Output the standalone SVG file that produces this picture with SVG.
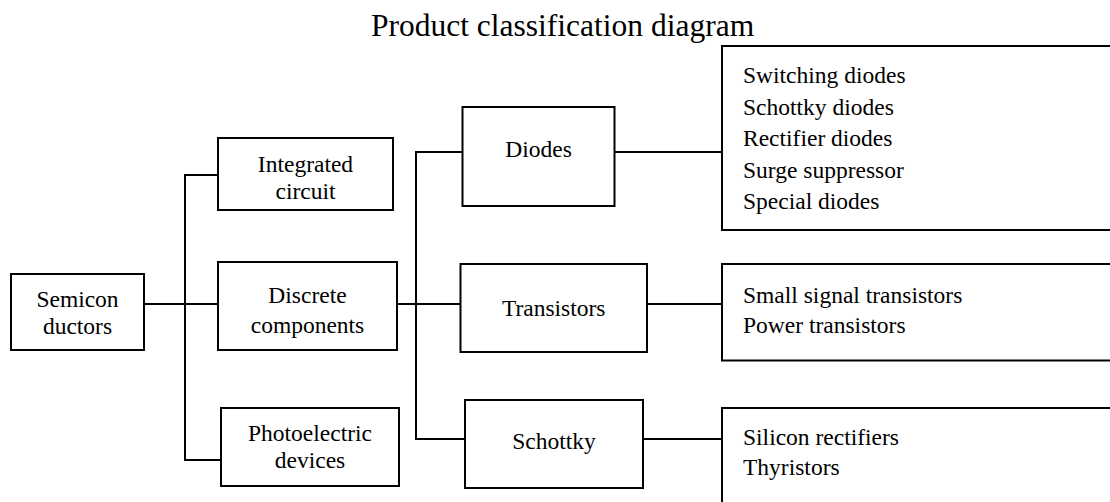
<svg xmlns="http://www.w3.org/2000/svg" width="1110" height="502" viewBox="0 0 1110 502" font-family="'Liberation Serif', 'Times New Roman', serif">
<style>
.box{fill:#fff;stroke:#000;stroke-width:2}
.con{fill:none;stroke:#000;stroke-width:2}
</style>
<rect width="1110" height="502" fill="#fff"/>
<text font-family="'Liberation Serif', 'Times New Roman', serif" font-size="31.5" x="371" y="36">Product classification diagram</text>
<g id="connectors">
<path class="con" d="M144,304 H218"/>
<path class="con" d="M218,175 H185 V460 H221"/>
<path class="con" d="M397,304 H460"/>
<path class="con" d="M462,152 H416 V439 H465"/>
<path class="con" d="M614,152 H722"/>
<path class="con" d="M647,304 H722"/>
<path class="con" d="M643,439 H722"/>
</g>
<g font-family="'Liberation Serif', 'Times New Roman', serif" font-size="23.5" text-anchor="middle">
<g id="semiconductors">
<rect class="box" x="11" y="274" width="133" height="76"/>
<text font-family="'Liberation Serif', 'Times New Roman', serif" x="77.5" y="306.5">Semicon</text>
<text font-family="'Liberation Serif', 'Times New Roman', serif" x="77.5" y="334">ductors</text>
</g>
<g id="integrated-circuit">
<rect class="box" x="218" y="138" width="175" height="72"/>
<text font-family="'Liberation Serif', 'Times New Roman', serif" x="305.5" y="171.5">Integrated</text>
<text font-family="'Liberation Serif', 'Times New Roman', serif" x="305.5" y="198.5">circuit</text>
</g>
<g id="discrete-components">
<rect class="box" x="218" y="262" width="179" height="88"/>
<text font-family="'Liberation Serif', 'Times New Roman', serif" x="307.5" y="302.5">Discrete</text>
<text font-family="'Liberation Serif', 'Times New Roman', serif" x="307.5" y="332.5">components</text>
</g>
<g id="photoelectric-devices">
<rect class="box" x="221" y="408" width="178" height="78"/>
<text font-family="'Liberation Serif', 'Times New Roman', serif" x="310" y="440.5">Photoelectric</text>
<text font-family="'Liberation Serif', 'Times New Roman', serif" x="310" y="468">devices</text>
</g>
<g id="diodes">
<rect class="box" x="462.5" y="107" width="152" height="99"/>
<text font-family="'Liberation Serif', 'Times New Roman', serif" x="538.5" y="157">Diodes</text>
</g>
<g id="transistors">
<rect class="box" x="460.5" y="264" width="186.5" height="88"/>
<text font-family="'Liberation Serif', 'Times New Roman', serif" x="553.7" y="316">Transistors</text>
</g>
<g id="schottky">
<rect class="box" x="465" y="400" width="178" height="88"/>
<text font-family="'Liberation Serif', 'Times New Roman', serif" x="554" y="449">Schottky</text>
</g>
</g>
<g font-family="'Liberation Serif', 'Times New Roman', serif" font-size="23.5">
<g id="diode-list">
<rect class="box" x="722" y="46" width="400" height="184"/>
<text font-family="'Liberation Serif', 'Times New Roman', serif" x="743" y="83">Switching diodes</text>
<text font-family="'Liberation Serif', 'Times New Roman', serif" x="743" y="114.5">Schottky diodes</text>
<text font-family="'Liberation Serif', 'Times New Roman', serif" x="743" y="146">Rectifier diodes</text>
<text font-family="'Liberation Serif', 'Times New Roman', serif" x="743" y="177.5">Surge suppressor</text>
<text font-family="'Liberation Serif', 'Times New Roman', serif" x="743" y="209">Special diodes</text>
</g>
<g id="transistor-list">
<rect class="box" x="722" y="264" width="400" height="96.5"/>
<text font-family="'Liberation Serif', 'Times New Roman', serif" x="743" y="303">Small signal transistors</text>
<text font-family="'Liberation Serif', 'Times New Roman', serif" x="743" y="333">Power transistors</text>
</g>
<g id="schottky-list">
<rect class="box" x="722" y="408" width="400" height="120"/>
<text font-family="'Liberation Serif', 'Times New Roman', serif" x="743" y="445">Silicon rectifiers</text>
<text font-family="'Liberation Serif', 'Times New Roman', serif" x="743" y="475">Thyristors</text>
</g>
</g>
</svg>
